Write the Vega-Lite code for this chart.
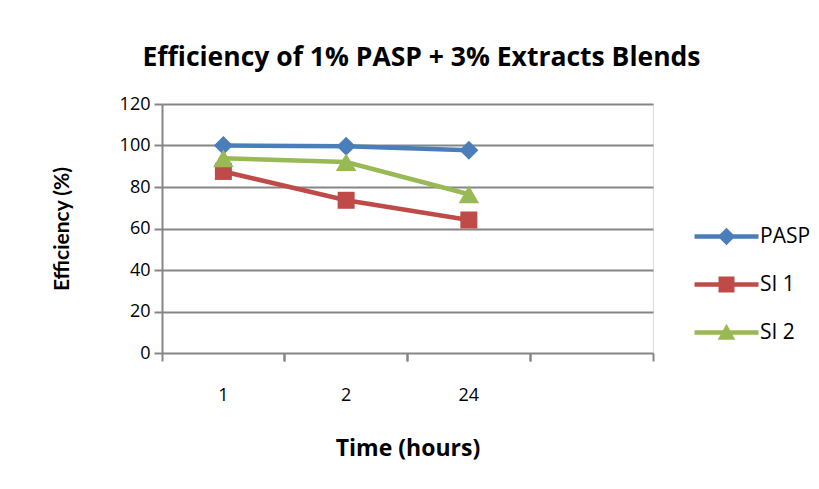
{
  "$schema": "https://vega.github.io/schema/vega-lite/v6.json",
  "width": 491,
  "height": 249,
  "autosize": {"type": "none"},
  "padding": {"left": 162, "top": 104, "right": 166, "bottom": 136},
  "background": "white",
  "title": {
    "text": "Efficiency of 1% PASP + 3% Extracts Blends",
    "font": "Open Sans",
    "fontSize": 26.5,
    "fontWeight": "bold",
    "color": "#000000",
    "anchor": "middle",
    "frame": "group",
    "dx": 14,
    "offset": 24
  },
  "data": {
    "values": [
      {"Time": "1", "Series": "PASP", "Efficiency": 100},
      {"Time": "2", "Series": "PASP", "Efficiency": 99.6},
      {"Time": "24", "Series": "PASP", "Efficiency": 97.7},
      {"Time": "1", "Series": "SI 1", "Efficiency": 87.5},
      {"Time": "2", "Series": "SI 1", "Efficiency": 73.6},
      {"Time": "24", "Series": "SI 1", "Efficiency": 64.1},
      {"Time": "1", "Series": "SI 2", "Efficiency": 93.8},
      {"Time": "2", "Series": "SI 2", "Efficiency": 92},
      {"Time": "24", "Series": "SI 2", "Efficiency": 76.5}
    ]
  },
  "resolve": {"axis": {"x": "independent"}},
  "layer": [
    {
      "encoding": {
        "x": {
          "field": "Time",
          "type": "nominal",
          "bandPosition": 0.5,
          "scale": {"type": "band", "domain": ["1", "2", "24", "_"], "paddingInner": 0, "paddingOuter": 0},
          "axis": {
            "orient": "bottom",
            "title": "Time (hours)",
            "bandPosition": 0,
            "labelExpr": "datum.value == '_' ? '' : datum.value",
            "labelAngle": 0,
            "labelFont": "Open Sans",
            "labelFontSize": 18,
            "labelColor": "#000000",
            "labelPadding": 25,
            "titleFont": "Open Sans",
            "titleFontSize": 23,
            "titleFontWeight": "bold",
            "titleColor": "#000000",
            "titlePadding": 33,
            "domain": false,
            "ticks": true,
            "tickSize": 8,
            "tickColor": "#868686",
            "tickWidth": 2,
            "grid": false
          }
        },
        "y": {
          "field": "Efficiency",
          "type": "quantitative",
          "scale": {"domain": [0, 120], "nice": false},
          "axis": {
            "title": "Efficiency (%)",
            "values": [0, 20, 40, 60, 80, 100, 120],
            "labelFont": "Open Sans",
            "labelFontSize": 18,
            "labelColor": "#000000",
            "labelPadding": 4,
            "titleFont": "Lato",
            "titleFontSize": 21,
            "titleFontWeight": "bold",
            "titleColor": "#000000",
            "titlePadding": 47,
            "domain": true,
            "domainColor": "#868686",
            "domainWidth": 2,
            "ticks": true,
            "tickSize": 8,
            "tickColor": "#868686",
            "tickWidth": 2,
            "grid": true,
            "gridColor": "#868686",
            "gridWidth": 2
          }
        },
        "color": {
          "field": "Series",
          "type": "nominal",
          "scale": {"range": ["#4A7EBB", "#BE4B48", "#98B954"]},
          "legend": null
        }
      },
      "layer": [
        {"mark": {"type": "line", "strokeWidth": 4.5}},
        {
          "transform": [{"filter": "datum.Series == 'PASP'"}],
          "mark": {"type": "point", "filled": true, "opacity": 1, "shape": "diamond", "size": 360}
        },
        {
          "transform": [{"filter": "datum.Series == 'SI 1'"}],
          "mark": {"type": "point", "filled": true, "opacity": 1, "shape": "square", "size": 289}
        },
        {
          "transform": [{"filter": "datum.Series == 'SI 2'"}],
          "mark": {"type": "point", "filled": true, "opacity": 1, "shape": "triangle-up", "size": 420}
        }
      ]
    },
    {
      "transform": [{"filter": "false"}],
      "mark": {"type": "point", "filled": true, "opacity": 1, "size": 256},
      "encoding": {
        "x": {
          "field": "Time",
          "type": "nominal",
          "bandPosition": 0.5,
          "scale": {"type": "band", "domain": ["1", "2", "24", "_"], "paddingInner": 0, "paddingOuter": 0},
          "axis": {
            "orient": "bottom",
            "title": null,
            "bandPosition": 1,
            "labels": false,
            "domain": false,
            "ticks": true,
            "tickSize": 8,
            "tickColor": "#868686",
            "tickWidth": 2,
            "grid": false
          }
        },
        "y": {"field": "Efficiency", "type": "quantitative"},
        "fill": {
          "field": "Series",
          "type": "nominal",
          "scale": {"domain": ["PASP", "SI 1", "SI 2"], "range": ["#4A7EBB", "#BE4B48", "#98B954"]},
          "legend": {
            "title": null,
            "orient": "none",
            "legendX": 554,
            "legendY": 122,
            "symbolOpacity": 1,
            "symbolSize": 256,
            "symbolStrokeWidth": 0,
            "labelFont": "Open Sans",
            "labelFontSize": 21,
            "labelColor": "#000000",
            "labelOffset": 23,
            "rowPadding": 26
          }
        },
        "shape": {
          "field": "Series",
          "type": "nominal",
          "scale": {
            "domain": ["PASP", "SI 1", "SI 2"],
            "range": [
              "M-4,-0.28H4V0.28H-4Z M0,-1.1L1.1,0L0,1.1L-1.1,0Z",
              "M-4,-0.28H4V0.28H-4Z M-1,-1H1V1H-1Z",
              "M-4,-0.28H4V0.28H-4Z M0,-1.1L1.1,0.9H-1.1Z"
            ]
          },
          "legend": {
            "title": null,
            "orient": "none",
            "legendX": 554,
            "legendY": 122,
            "symbolOpacity": 1,
            "symbolSize": 256,
            "symbolStrokeWidth": 0,
            "labelFont": "Open Sans",
            "labelFontSize": 21,
            "labelColor": "#000000",
            "labelOffset": 23,
            "rowPadding": 26
          }
        }
      }
    }
  ]
}
